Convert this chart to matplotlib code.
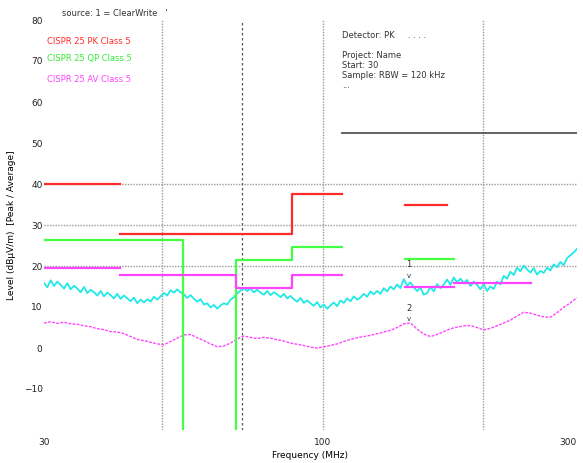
import numpy as np
import matplotlib
matplotlib.use("Agg")
import matplotlib.pyplot as plt

nan = np.nan

# ---- data ----
x_ticks = [30, 100, 300]
x_tick_labels = ["30", "100", "300"]
y_ticks = [-10, 0, 10, 20, 30, 40, 50, 60, 70, 80]

# peak trace (cyan), 161 sweep points log-spaced 30..300 MHz
peak_trace = [
    15.9, 14.8, 16.5, 15.1, 16.2, 15.4, 14.5, 15.8, 14.3, 15.2,
    14.5, 13.6, 14.9, 13.4, 14.2, 13.6, 12.8, 13.9, 12.6, 13.5,
    12.9, 12.1, 13.2, 12.0, 12.8, 12.1, 11.4, 12.3, 10.9, 11.8,
    11.1, 11.9, 11.3, 12.5, 11.8, 12.6, 13.4, 12.8, 14.1, 13.5,
    14.3, 13.6, 13.1, 12.2, 12.9, 12.0, 11.3, 11.9, 10.6, 10.9,
    9.9, 10.5, 9.6, 10.4, 10.9, 10.6, 11.8, 12.4, 13.3, 14.0,
    14.6, 13.9, 14.5, 13.6, 14.2, 13.5, 13.0, 13.9, 12.9, 13.6,
    13.1, 12.4, 13.2, 12.1, 12.7, 11.9, 11.3, 12.2, 11.0, 11.6,
    10.9, 10.3, 11.2, 9.9, 10.6, 9.6, 10.4, 11.1, 10.2, 11.6,
    11.0, 12.1, 11.4, 12.6, 11.8, 12.3, 13.2, 12.5, 13.8, 13.1,
    13.9, 13.2, 14.6, 13.8, 15.0, 14.3, 15.5, 14.6, 16.8, 15.2,
    16.0, 14.8, 13.9, 14.7, 13.0, 13.4, 14.9, 13.8, 15.6, 14.6,
    15.5, 16.7, 15.4, 17.2, 16.0, 16.9, 15.8, 16.6, 15.1, 16.2,
    15.4, 14.3, 15.6, 13.9, 15.0, 14.4, 16.2, 15.5, 17.6, 16.9,
    18.6, 17.8, 19.6, 18.7, 20.1, 19.2, 18.4, 19.5, 17.9, 18.8,
    18.3, 19.6, 18.9, 20.4, 19.7, 21.0, 20.2, 21.9, 22.6, 23.3,
    24.2,
]

# average trace (magenta), 81 sweep points log-spaced 30..300 MHz
avg_trace = [
    6.1, 6.4, 6.0, 6.3, 5.9, 5.8, 5.4, 5.2, 4.7, 4.5,
    4.0, 3.9, 3.5, 2.8, 2.1, 1.8, 1.4, 1.0, 0.8, 1.6,
    2.4, 3.2, 3.3, 2.5, 1.8, 1.0, 0.3, 0.5, 1.2, 2.2,
    2.9, 2.6, 2.3, 2.6, 2.4, 2.0, 1.7, 1.2, 0.9, 0.6,
    0.2, 0.0, 0.3, 0.6, 1.0, 1.6, 2.1, 2.5, 2.8, 3.1,
    3.5, 3.9, 4.3, 5.0, 5.9, 6.1, 4.6, 3.4, 2.8, 3.3,
    4.0, 4.7, 5.1, 5.4, 5.5, 5.0, 4.4, 4.8, 5.4, 6.1,
    6.8, 7.8, 8.7, 8.5, 8.0, 7.6, 7.5, 8.6, 9.9, 11.0,
    12.3,
]

# limit lines (MHz, dBuV/m); NaN separates bands
pk_f = [30, 41.7, nan, 41.7, 87.6, 87.6, 108.7, nan, 142.8, 171]
pk_lvl = [40, 40, nan, 27.8, 27.8, 37.6, 37.6, nan, 35, 35]

qp_f = [30, 54.7, 54.7, 68.8, 68.8, 87.6, 87.6, 108.7, nan, 142.8, 176]
qp_lvl = [26.3, 26.3, -30, -30, 21.5, 21.5, 24.7, 24.7, nan, 21.7, 21.7]

av_f = [30, 41.7, nan, 41.7, 68.8, 68.8, 87.6, 87.6, 108.7, nan, 142.8, 176, nan, 176, 246]
av_lvl = [19.5, 19.5, nan, 17.7, 17.7, 14.6, 14.6, 17.7, 17.7, nan, 14.8, 14.8, nan, 15.8, 15.8]

upper_f = [108.7, 300]
upper_lvl = [52.4, 52.4]

grid_f = [50, 100, 200]
grid_lvl = [20, 30, 40]
marker_line_f = 70.5

marker_f = 145
marker1_lvl = 16.8
marker2_lvl = 6.1

legend_names = ["CISPR 25 PK Class 5", "CISPR 25 QP Class 5", "CISPR 25 AV Class 5"]
info_lines = ["Detector: PK     . . . .", "Project: Name", "Start: 30", "Sample: RBW = 120 kHz", "..."]

# ---- plot ----
plt.rcParams['font.family'] = ['DejaVu Sans']
fig = plt.figure(figsize=(5.83, 4.63), dpi=100)
ax = fig.add_axes([44/583, 1-430/463, 533/583, 410/463])
ax.set_xscale('log')
ax.set_xlim(30, 300)
ax.set_ylim(-20, 80)

for f in grid_f:
    ax.axvline(f, color='#9a9a9a', lw=1.0, ls=(0, (1, 1)), zorder=1)
for l in grid_lvl:
    ax.axhline(l, color='#9a9a9a', lw=1.0, ls=(0, (1, 1)), zorder=1)
ax.axvline(marker_line_f, color='#555555', lw=0.9, ls=(0, (2, 2)), zorder=1)

pf = np.geomspace(30, 300, len(peak_trace))
af = np.geomspace(30, 300, len(avg_trace))
ax.plot(pf, peak_trace, color='#22e8e8', lw=1.3, zorder=3)
ax.plot(af, avg_trace, color='#ff44ff', lw=1.0, ls=(0, (2, 1)), zorder=3)

ax.plot(pk_f, pk_lvl, color='#ff2a2a', lw=1.6, zorder=4)
ax.plot(qp_f, qp_lvl, color='#44ff44', lw=1.6, zorder=4)
ax.plot(av_f, av_lvl, color='#ff44ff', lw=1.6, zorder=4)
ax.plot(upper_f, upper_lvl, color='#555555', lw=1.3, zorder=4)

ax.text(marker_f, marker1_lvl + 3.5, '1', fontsize=6, ha='center', va='center', color='#333333')
ax.text(marker_f, marker1_lvl + 0.8, 'v', fontsize=5, ha='center', va='center', color='#333333')
ax.text(marker_f, marker2_lvl + 3.6, '2', fontsize=6, ha='center', va='center', color='#333333')
ax.text(marker_f, marker2_lvl + 1.0, 'v', fontsize=5, ha='center', va='center', color='#333333')

for s in ax.spines.values():
    s.set_visible(False)
ax.set_xticks(x_ticks)
ax.set_xticklabels(x_tick_labels)
ax.minorticks_off()
ax.set_yticks(y_ticks)
ax.tick_params(length=0, labelsize=6.5, colors='#222222')
ax.tick_params(axis='y', pad=1)
ax.tick_params(axis='x', pad=6)
ax.get_xticklabels()[-1].set_horizontalalignment('right')
ax.set_xlabel('Frequency (MHz)', fontsize=6.5, labelpad=3)
ax.set_ylabel('Level (dBµV/m)  [Peak / Average]', fontsize=6.5)
ax.yaxis.set_label_coords((16 - 44) / 533, 0.5)

fig.text(115/583, 1-14/463, 'source: 1 = ClearWrite   \'', fontsize=6, ha='center', va='center', color='#333333')
cols = ['#ff2a2a', '#33ee33', '#ff44ff']
ys = [42, 59, 79]
for name, c, y in zip(legend_names, cols, ys):
    fig.text(47/583, 1-y/463, name, fontsize=6, ha='left', va='center', color=c)
iy = [36, 56, 66, 76, 85]
for t, y in zip(info_lines, iy):
    fig.text(342/583, 1-y/463, t, fontsize=6, ha='left', va='center', color='#333333')

fig.savefig('out.png', dpi=100)
